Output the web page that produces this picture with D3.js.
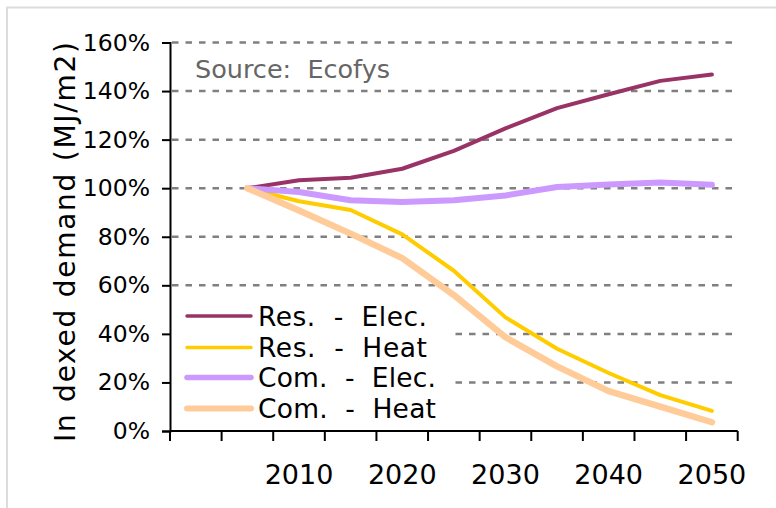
<!DOCTYPE html>
<html>
<head>
<meta charset="utf-8">
<script src="https://cdn.jsdelivr.net/npm/d3@7"></script>
<style>
  body { margin: 0; background: #fff; }
  svg { display: block; font-family: "DejaVu Sans", Verdana, sans-serif; }
</style>
</head>
<body>
<svg width="776" height="508"></svg>
<script>
const years = ["2000", "2005", "2010", "2015", "2020", "2025", "2030", "2035", "2040", "2045", "2050"];
const tickYears = ["2010", "2020", "2030", "2040", "2050"];
const yTicks = [0, 20, 40, 60, 80, 100, 120, 140, 160];

const pointYears = ["2005", "2010", "2015", "2020", "2025", "2030", "2035", "2040", "2045", "2050"];
const resElec = [100, 103.3, 104.3, 108, 115.4, 124.6, 133, 138.7, 144.2, 146.8];
const resHeat = [100, 94.6, 91, 81, 66, 46.8, 33.9, 23.9, 14.8, 8.3];
const comElec = [100, 98.4, 95, 94.3, 95, 97, 100.5, 101.5, 102.3, 101.4];
const comHeat = [100, 90.8, 81.3, 71.2, 56, 38.6, 26.6, 16.4, 10, 3.6];

const seriesNames = ["Res.  -  Elec.", "Res.  -  Heat", "Com.  -  Elec.", "Com.  -  Heat"];
const seriesValues = [resElec, resHeat, comElec, comHeat];
const colors = ["#993366", "#ffcc00", "#cc99ff", "#ffcc99"];
const widths = [4, 4, 6, 6.5];

const svg = d3.select("svg");

// outer frame
svg.append("rect")
  .attr("x", 7).attr("y", 7.5)
  .attr("width", 790).attr("height", 520)
  .attr("fill", "none").attr("stroke", "#dcdcdc").attr("stroke-width", 2);

const plotLeft = 170, plotRight = 737.7, plotTop = 42.5, plotBottom = 431;

const xScale = d3.scaleBand().domain(years).range([plotLeft, plotRight]).padding(0);
const yScale = d3.scaleLinear().domain([0, 160]).range([plotBottom, plotTop]);

// gridlines
svg.append("g")
  .selectAll("line")
  .data(yTicks.filter((d) => d > 0))
  .enter()
  .append("line")
  .attr("x1", plotLeft + 2).attr("x2", plotRight)
  .attr("y1", (d) => yScale(d)).attr("y2", (d) => yScale(d))
  .attr("stroke", "#808080")
  .attr("stroke-width", 2.5)
  .attr("stroke-dasharray", "6.5,7");

// y axis
const yAxisG = svg.append("g")
  .attr("transform", `translate(${plotLeft},0)`)
  .call(d3.axisLeft(yScale).tickValues(yTicks).tickSize(8).tickPadding(12).tickFormat((d) => d + "%"));
yAxisG.select(".domain").attr("stroke", "#000").attr("stroke-width", 2);
yAxisG.selectAll(".tick line").attr("stroke", "#000").attr("stroke-width", 2);
yAxisG.selectAll(".tick text")
  .attr("font-size", 23.5)
  .attr("font-family", "DejaVu Sans")
  .attr("fill", "#000");

// x axis: ticks on category boundaries
const xAxisG = svg.append("g").attr("transform", `translate(0,${plotBottom})`);
xAxisG.append("line")
  .attr("x1", plotLeft).attr("x2", plotRight)
  .attr("stroke", "#000").attr("stroke-width", 2);
xAxisG.selectAll(".bound")
  .data(years.concat(["end"]))
  .enter()
  .append("line")
  .attr("class", "bound")
  .attr("x1", (d) => (d === "end" ? plotRight : xScale(d)))
  .attr("x2", (d) => (d === "end" ? plotRight : xScale(d)))
  .attr("y1", 0).attr("y2", 10)
  .attr("stroke", "#000").attr("stroke-width", 2);
xAxisG.selectAll(".lbl")
  .data(tickYears)
  .enter()
  .append("text")
  .attr("class", "lbl")
  .attr("x", (d) => xScale(d) + xScale.bandwidth() / 2)
  .attr("y", 44)
  .attr("dy", "0.35em")
  .attr("text-anchor", "middle")
  .attr("font-size", 27)
  .text((d) => d);

// y axis title
svg.append("text")
  .attr("transform", `translate(75,242) rotate(-90)`)
  .attr("text-anchor", "middle")
  .attr("font-size", 28)
  .attr("textLength", 400)
  .attr("lengthAdjust", "spacing")
  .text("In dexed demand (MJ/m2)");

// source note
svg.append("text")
  .attr("x", 195).attr("y", 78)
  .attr("font-size", 25.5)
  .attr("fill", "#666")
  .style("white-space", "pre")
  .text("Source:  Ecofys");

// legend background hides the gridlines behind it
svg.append("rect")
  .attr("x", plotLeft + 2).attr("y", 299)
  .attr("width", 280).attr("height", 126)
  .attr("fill", "#fff");

// lines
const line = d3.line()
  .x((d, i) => xScale(pointYears[i]) + xScale.bandwidth() / 2)
  .y((d) => yScale(d));

svg.append("g")
  .selectAll("path")
  .data(seriesValues)
  .enter()
  .append("path")
  .attr("d", line)
  .attr("fill", "none")
  .attr("stroke", (d, i) => colors[i])
  .attr("stroke-width", (d, i) => widths[i])
  .attr("stroke-linejoin", "round")
  .attr("stroke-linecap", "round");

// legend
const legendRows = [316, 347.5, 377.5, 408.5];
const legend = svg.append("g");
seriesNames.forEach((name, i) => {
  legend.append("line")
    .attr("x1", 187).attr("x2", 251)
    .attr("y1", legendRows[i]).attr("y2", legendRows[i])
    .attr("stroke", colors[i])
    .attr("stroke-width", widths[i] - 0.5)
    .attr("stroke-linecap", "round");
  legend.append("text")
    .attr("x", 258).attr("y", legendRows[i])
    .attr("dy", "0.36em")
    .attr("font-size", 26.5)
    .attr("textLength", name.indexOf("Com") === 0 ? 178 : 169)
    .attr("lengthAdjust", "spacing")
    .style("white-space", "pre")
    .text(name);
});
</script>
</body>
</html>
